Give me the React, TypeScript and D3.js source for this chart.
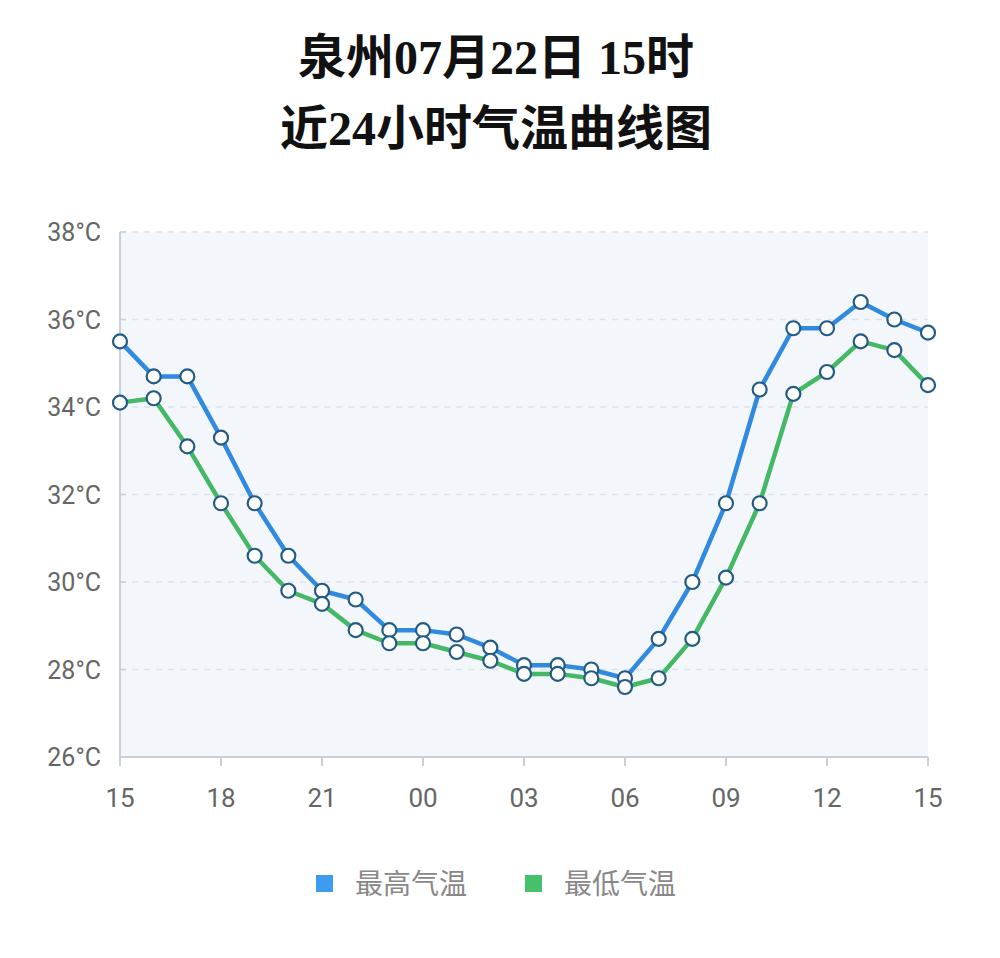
import React from "react";
import * as d3 from "d3";

const hours = ["15","16","17","18","19","20","21","22","23","00","01","02","03","04","05","06","07","08","09","10","11","12","13","14","15"];
const highTemps = [35.5,34.7,34.7,33.3,31.8,30.6,29.8,29.6,28.9,28.9,28.8,28.5,28.1,28.1,28.0,27.8,28.7,30.0,31.8,34.4,35.8,35.8,36.4,36.0,35.7];
const lowTemps = [34.1,34.2,33.1,31.8,30.6,29.8,29.5,28.9,28.6,28.6,28.4,28.2,27.9,27.9,27.8,27.6,27.8,28.7,30.1,31.8,34.3,34.8,35.5,35.3,34.5];
const yTicks = [26,28,30,32,34,36,38];
const xTickIdx = [0,3,6,9,12,15,18,21,24];
const seriesNames = ["最高气温","最低气温"];
const titleLines = ["泉州07月22日 15时","近24小时气温曲线图"];

export default function App() {
  const W = 1000, H = 958;
  const left = 120, right = 928, top = 232, bottom = 757;
  const x = d3.scaleLinear().domain([0, 24]).range([left, right]);
  const y = d3.scaleLinear().domain([26, 38]).range([bottom, top]);
  const line = d3.line<number>().x((_, i) => x(i)).y(d => y(d));
  const series = [
    { name: seriesNames[0], data: highTemps, color: "#2f8ae0", legend: "#3d9bf0" },
    { name: seriesNames[1], data: lowTemps, color: "#44b865", legend: "#45c06b" },
  ];
  const titleFont = "'Liberation Serif','Noto Sans CJK SC',serif";
  return (
    <div style={{ position: "absolute", left: 0, top: 0 }}>
      <svg width={W} height={H} style={{ display: "block", background: "#fff" }}>
        {titleLines.map((t, i) => (
          <text key={i} x={496} y={74 + i * 71} textAnchor="middle" fontFamily={titleFont}
            fontWeight="bold" fontSize={48} fill="#111">{t}</text>
        ))}
        <rect x={left} y={top} width={right - left} height={bottom - top} fill="#f3f7fb" />
        {yTicks.map(v => (
          <g key={v}>
            {v !== 26 && (
              <line x1={left} x2={right} y1={y(v)} y2={y(v)} stroke="#dce3ec" strokeWidth={1.5} strokeDasharray="6,6" />
            )}
            <line x1={left} x2={left + 6} y1={y(v)} y2={y(v)} stroke="#c9d0d8" strokeWidth={1.5} />
            <text x={101} y={y(v) + 9} textAnchor="end" fontFamily="Roboto, 'Noto Sans', sans-serif"
              fontSize={25} fill="#666">{v}°C</text>
          </g>
        ))}
        <line x1={left} x2={left} y1={top} y2={bottom} stroke="#c9d0d8" strokeWidth={2} />
        <line x1={left} x2={right} y1={bottom} y2={bottom} stroke="#c9d0d8" strokeWidth={2} />
        {xTickIdx.map(i => (
          <g key={i}>
            <line x1={x(i)} x2={x(i)} y1={bottom} y2={bottom + 9} stroke="#c9d0d8" strokeWidth={2} />
            <text x={x(i)} y={807} textAnchor="middle" fontFamily="Roboto, 'Noto Sans', sans-serif"
              fontSize={26} fill="#666">{hours[i]}</text>
          </g>
        ))}
        {series.map(s => (
          <path key={s.name} d={line(s.data) || ""} fill="none" stroke={s.color} strokeWidth={4.5} strokeLinejoin="round" />
        ))}
        {series.map(s => (
          <g key={s.name + "m"}>
            {s.data.map((v, i) => (
              <circle key={i} cx={x(i)} cy={y(v)} r={7} fill="#fff" stroke="#235b86" strokeWidth={2.2} />
            ))}
          </g>
        ))}
        {series.map((s, k) => (
          <g key={s.name + "l"} transform={`translate(${316 + k * 209},875)`}>
            <rect x={0} y={0} width={17} height={17} fill={s.legend} />
            <text x={39} y={19} fontFamily="'Noto Sans CJK SC', sans-serif" fontSize={28} fill="#888">{s.name}</text>
          </g>
        ))}
      </svg>
    </div>
  );
}
